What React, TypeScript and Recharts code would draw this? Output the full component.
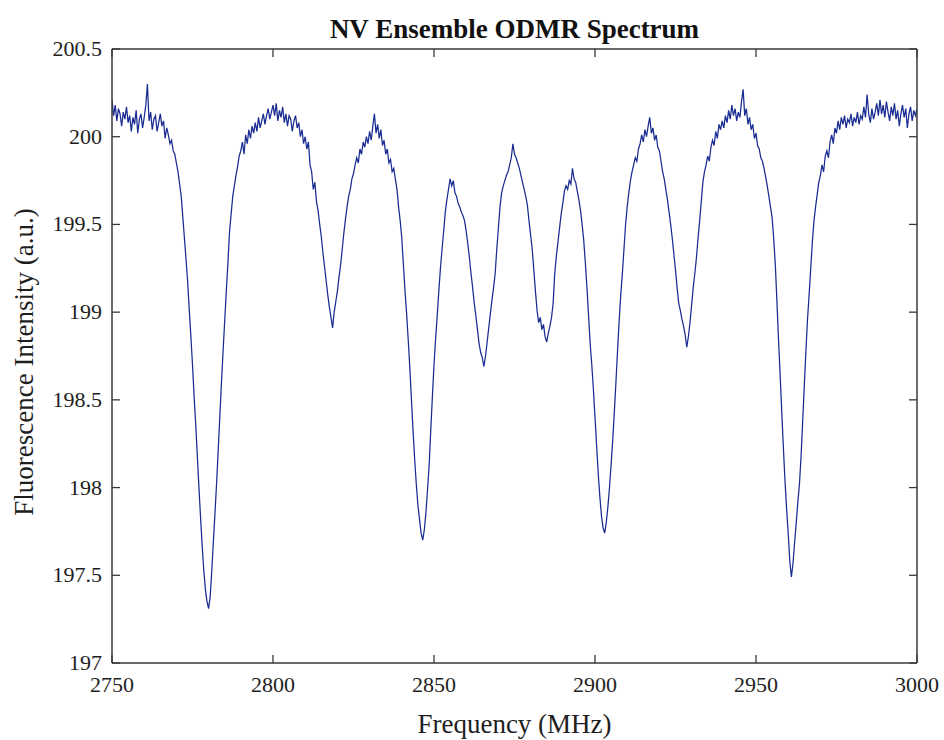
import React from 'react';
import { LineChart, Line, XAxis, YAxis, Label } from 'recharts';

// Sweep grid of the measurement (MHz)
const FREQ_START = 2750;
const FREQ_STEP = 0.5;

// Fluorescence intensity (a.u.), 0.5 MHz apart
const seg2750 = [
  200.21, 200.12, 200.18, 200.09, 200.16, 200.13, 200.06, 200.14, 200.10, 200.17, 200.08, 200.12, 200.03, 200.11, 200.07, 200.15, 200.02, 200.10, 200.13, 200.05,
  200.11, 200.18, 200.30, 200.09, 200.14, 200.04, 200.10, 200.12, 200.03, 200.08, 200.13, 200.06, 200.09, 199.99, 200.05, 200.01, 199.96, 199.98, 199.92, 199.90,
  199.85, 199.80, 199.73, 199.66, 199.54, 199.42, 199.30, 199.17, 199.01, 198.86, 198.70, 198.52, 198.36, 198.18, 198.00, 197.83, 197.67, 197.53, 197.42, 197.35,
  197.31, 197.38, 197.53, 197.70, 197.86, 198.03, 198.22, 198.41, 198.60, 198.78, 198.95, 199.12, 199.28, 199.46, 199.56, 199.66, 199.72, 199.78, 199.83, 199.89,
  199.92, 199.97, 199.90, 200.01, 199.96, 200.04, 199.99, 200.06, 200.02, 200.08, 200.03, 200.11, 200.05, 200.09, 200.13, 200.07, 200.12, 200.16, 200.10, 200.14,
];
const seg2800 = [
  200.18, 200.12, 200.19, 200.09, 200.15, 200.11, 200.17, 200.08, 200.13, 200.06, 200.12, 200.10, 200.03, 200.09, 200.12, 200.05, 200.08, 200.00, 200.04, 199.96,
  200.00, 199.93, 199.97, 199.84, 199.80, 199.70, 199.74, 199.63, 199.58, 199.50, 199.43, 199.34, 199.26, 199.18, 199.10, 199.03, 198.97, 198.91, 199.00, 199.06,
  199.12, 199.20, 199.27, 199.36, 199.45, 199.53, 199.60, 199.66, 199.70, 199.76, 199.79, 199.84, 199.88, 199.85, 199.93, 199.90, 199.97, 199.94, 200.00, 199.96,
  200.03, 199.98, 200.06, 200.13, 200.02, 200.07, 199.99, 200.04, 199.95, 199.98, 199.90, 199.93, 199.85, 199.87, 199.80, 199.82, 199.76, 199.70, 199.60, 199.52,
  199.42, 199.27, 199.12, 198.99, 198.84, 198.68, 198.50, 198.32, 198.16, 198.02, 197.90, 197.82, 197.74, 197.70, 197.76, 197.86, 197.99, 198.13, 198.33, 198.52,
];
const seg2850 = [
  198.70, 198.85, 198.98, 199.12, 199.25, 199.36, 199.46, 199.57, 199.64, 199.70, 199.76, 199.72, 199.75, 199.68, 199.66, 199.62, 199.60, 199.57, 199.55, 199.52,
  199.46, 199.39, 199.31, 199.22, 199.14, 199.05, 198.98, 198.90, 198.82, 198.77, 198.74, 198.69, 198.75, 198.83, 198.91, 198.99, 199.07, 199.14, 199.22, 199.36,
  199.48, 199.60, 199.68, 199.72, 199.75, 199.78, 199.80, 199.84, 199.88, 199.96, 199.90, 199.88, 199.85, 199.82, 199.78, 199.74, 199.70, 199.66, 199.61, 199.52,
  199.44, 199.36, 199.24, 199.12, 199.01, 198.94, 198.97, 198.90, 198.93, 198.86, 198.83, 198.88, 198.92, 198.97, 199.05, 199.22, 199.32, 199.40, 199.48, 199.56,
  199.62, 199.69, 199.72, 199.70, 199.75, 199.73, 199.82, 199.76, 199.74, 199.69, 199.64, 199.58, 199.50, 199.41, 199.28, 199.14, 198.98, 198.82, 198.70, 198.56,
];
const seg2900 = [
  198.40, 198.24, 198.08, 197.95, 197.84, 197.77, 197.74, 197.80, 197.89, 198.00, 198.13, 198.27, 198.43, 198.60, 198.78, 198.95, 199.10, 199.22, 199.36, 199.50,
  199.60, 199.68, 199.75, 199.80, 199.84, 199.88, 199.86, 199.93, 199.96, 200.01, 199.97, 200.04, 200.00, 200.06, 200.11, 200.02, 200.05, 199.98, 200.01, 199.94,
  199.92, 199.86, 199.80, 199.76, 199.70, 199.64, 199.57, 199.50, 199.42, 199.33, 199.24, 199.14, 199.05, 199.01, 198.96, 198.92, 198.87, 198.80, 198.86, 198.94,
  199.04, 199.14, 199.22, 199.31, 199.42, 199.52, 199.63, 199.74, 199.80, 199.84, 199.89, 199.86, 199.94, 199.98, 199.95, 200.03, 199.99, 200.07, 200.04, 200.09,
  200.05, 200.12, 200.08, 200.15, 200.10, 200.18, 200.12, 200.16, 200.09, 200.14, 200.11, 200.20, 200.27, 200.12, 200.16, 200.07, 200.11, 200.04, 200.07, 199.99,
];
const seg2950 = [
  200.02, 199.95, 199.93, 199.88, 199.86, 199.82, 199.77, 199.72, 199.66, 199.60, 199.54, 199.42, 199.27, 199.06, 198.84, 198.64, 198.43, 198.23, 198.04, 197.88,
  197.74, 197.58, 197.49, 197.57, 197.69, 197.80, 197.92, 198.02, 198.18, 198.38, 198.58, 198.78, 198.96, 199.10, 199.25, 199.40, 199.52, 199.60, 199.67, 199.74,
  199.78, 199.84, 199.80, 199.89, 199.92, 199.88, 199.97, 200.01, 199.96, 200.05, 200.02, 200.09, 200.04, 200.11, 200.07, 200.12, 200.05, 200.10, 200.08, 200.13,
  200.06, 200.11, 200.08, 200.14, 200.07, 200.12, 200.10, 200.17, 200.11, 200.24, 200.13, 200.08, 200.16, 200.10, 200.14, 200.19, 200.12, 200.21, 200.13, 200.18,
  200.11, 200.20, 200.14, 200.09, 200.17, 200.12, 200.19, 200.10, 200.15, 200.06, 200.13, 200.18, 200.11, 200.16, 200.05, 200.13, 200.17, 200.09, 200.15, 200.12,
  200.16,
];

const intensity = [...seg2750, ...seg2800, ...seg2850, ...seg2900, ...seg2950];
const data = intensity.map((v, i) => ({ f: FREQ_START + i * FREQ_STEP, v }));

const xTicks = [2750, 2800, 2850, 2900, 2950, 3000];
const yTicks = [197, 197.5, 198, 198.5, 199, 199.5, 200, 200.5];

const TITLE = 'NV Ensemble ODMR Spectrum';
const X_LABEL = 'Frequency (MHz)';
const Y_LABEL = 'Fluorescence Intensity (a.u.)';

const FONT = '"Liberation Serif", "Times New Roman", Times, serif';
const AXIS_COLOR = '#3a3a3a';
const TEXT_COLOR = '#1e1e1e';
const LINE_COLOR = '#1a2c92';
const TICK_LEN = 8;

const BottomTick = (props: any) => {
  const { x, y, payload } = props;
  return (
    <g>
      <line x1={x} y1={y} x2={x} y2={y - TICK_LEN} stroke={AXIS_COLOR} strokeWidth={1.3} />
      <text x={x} y={y + 29} textAnchor="middle" fontFamily={FONT} fontSize={22} fill={TEXT_COLOR}>
        {payload.value}
      </text>
    </g>
  );
};

const TopTick = (props: any) => {
  const { x, y } = props;
  return <line x1={x} y1={y} x2={x} y2={y + TICK_LEN} stroke={AXIS_COLOR} strokeWidth={1.3} />;
};

const LeftTick = (props: any) => {
  const { x, y, payload } = props;
  return (
    <g>
      <line x1={x} y1={y} x2={x + TICK_LEN} y2={y} stroke={AXIS_COLOR} strokeWidth={1.3} />
      <text x={x - 10} y={y + 7} textAnchor="end" fontFamily={FONT} fontSize={22} fill={TEXT_COLOR}>
        {payload.value}
      </text>
    </g>
  );
};

const RightTick = (props: any) => {
  const { x, y } = props;
  return <line x1={x} y1={y} x2={x - TICK_LEN} y2={y} stroke={AXIS_COLOR} strokeWidth={1.3} />;
};

const TitleLabel = (props: any) => {
  const { viewBox } = props;
  const cx = viewBox.x + viewBox.width / 2;
  return (
    <text x={cx} y={viewBox.y + viewBox.height - 11} textAnchor="middle" fontFamily={FONT} fontWeight="bold" fontSize={27} fill="#111">
      {TITLE}
    </text>
  );
};

const XLabel = (props: any) => {
  const { viewBox } = props;
  const cx = viewBox.x + viewBox.width / 2;
  return (
    <text x={cx} y={viewBox.y + 70} textAnchor="middle" fontFamily={FONT} fontSize={27} fill={TEXT_COLOR}>
      {X_LABEL}
    </text>
  );
};

const YLabel = (props: any) => {
  const { viewBox } = props;
  const cx = 24;
  const cy = viewBox.y + viewBox.height / 2 + 6;
  return (
    <text
      x={cx}
      y={cy}
      transform={`rotate(-90, ${cx}, ${cy})`}
      textAnchor="middle"
      dominantBaseline="central"
      fontFamily={FONT}
      fontSize={27}
      fill={TEXT_COLOR}
    >
      {Y_LABEL}
    </text>
  );
};

export default function App() {
  return (
    <div style={{ width: 944, height: 740, background: '#fff' }}>
      <style>{'html, body { margin: 0; padding: 0; background: #fff; }'}</style>
      <LineChart width={944} height={740} data={data} margin={{ top: 48, right: 26, left: 0, bottom: 0 }}>
        <XAxis
          xAxisId="bottom"
          dataKey="f"
          type="number"
          domain={[2750, 3000]}
          ticks={xTicks}
          interval={0}
          height={77}
          tickSize={0}
          tickMargin={0}
          tickLine={false}
          tick={BottomTick}
          axisLine={{ stroke: AXIS_COLOR, strokeWidth: 1.5 }}
          allowDataOverflow
        >
          <Label content={XLabel} />
        </XAxis>
        <XAxis
          xAxisId="top"
          orientation="top"
          dataKey="f"
          type="number"
          domain={[2750, 3000]}
          ticks={xTicks}
          interval={0}
          height={1}
          tickSize={0}
          tickMargin={0}
          tickLine={false}
          tick={TopTick}
          axisLine={{ stroke: AXIS_COLOR, strokeWidth: 1.5 }}
          allowDataOverflow
        >
          <Label content={TitleLabel} />
        </XAxis>
        <YAxis
          yAxisId="left"
          type="number"
          domain={[197, 200.5]}
          ticks={yTicks}
          interval={0}
          width={112}
          tickSize={0}
          tickMargin={0}
          tickLine={false}
          tick={LeftTick}
          axisLine={{ stroke: AXIS_COLOR, strokeWidth: 1.5 }}
          allowDataOverflow
        >
          <Label content={YLabel} />
        </YAxis>
        <YAxis
          yAxisId="right"
          orientation="right"
          type="number"
          domain={[197, 200.5]}
          ticks={yTicks}
          interval={0}
          width={1}
          tickSize={0}
          tickMargin={0}
          tickLine={false}
          tick={RightTick}
          axisLine={{ stroke: AXIS_COLOR, strokeWidth: 1.5 }}
          allowDataOverflow
        />
        <Line
          xAxisId="top"
          yAxisId="right"
          type="linear"
          dataKey="v"
          stroke="none"
          strokeWidth={0}
          dot={false}
          activeDot={false}
          legendType="none"
          isAnimationActive={false}
        />
        <Line
          xAxisId="bottom"
          yAxisId="left"
          type="linear"
          dataKey="v"
          stroke={LINE_COLOR}
          strokeWidth={1.25}
          dot={false}
          isAnimationActive={false}
        />
      </LineChart>
    </div>
  );
}
